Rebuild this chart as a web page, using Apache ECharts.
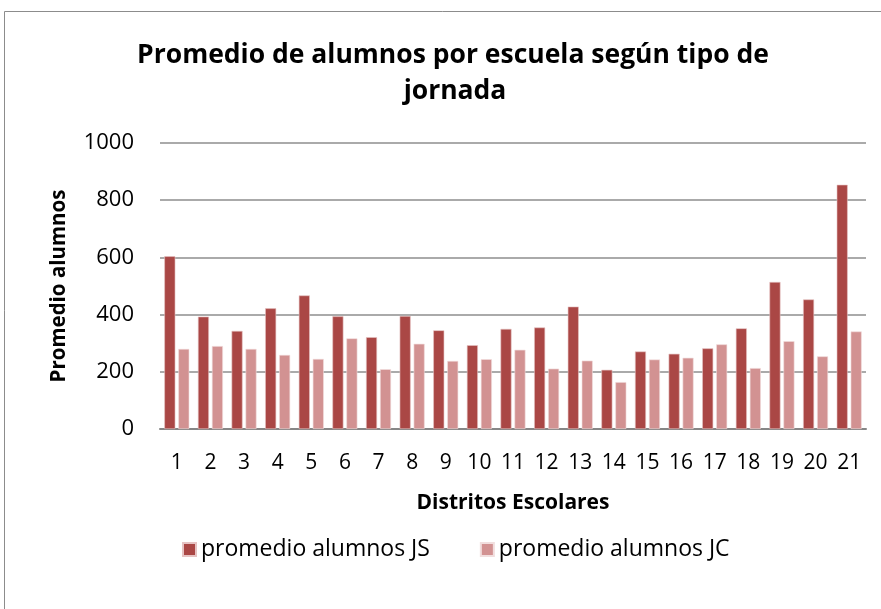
<!DOCTYPE html>
<html>
<head>
<meta charset="utf-8">
<script src="https://cdn.jsdelivr.net/npm/echarts@6/dist/echarts.min.js"></script>
<style>
html,body{margin:0;padding:0;background:#fff;}
#chart{width:881px;height:609px;}
</style>
</head>
<body>
<div id="chart"></div>
<script>
const categories = ['1','2','3','4','5','6','7','8','9','10','11','12','13','14','15','16','17','18','19','20','21'];
const seriesJS = [604, 393, 343, 422, 467, 394, 321, 395, 345, 293, 350, 355, 428, 207, 271, 263, 282, 352, 514, 453, 854];
const seriesJC = [280, 290, 280, 259, 245, 317, 209, 298, 238, 244, 277, 211, 239, 164, 243, 249, 296, 213, 307, 254, 341];
const yTicks = [0, 200, 400, 600, 800, 1000];
const titleLines = ['Promedio de alumnos por escuela según tipo de', 'jornada'];

const FONT = '"Open Sans", "Liberation Sans", sans-serif';
const chart = echarts.init(document.getElementById('chart'), null, {renderer: 'canvas'});
chart.setOption({
  animation: false,
  backgroundColor: '#ffffff',
  textStyle: {fontFamily: FONT, color: '#000'},
  graphic: [
    {type: 'line', shape: {x1: 4.5, y1: 11.5, x2: 881, y2: 11.5}, style: {stroke: '#8c8c8c', lineWidth: 1}, silent: true},
    {type: 'line', shape: {x1: 4.5, y1: 11.5, x2: 4.5, y2: 609}, style: {stroke: '#8c8c8c', lineWidth: 1}, silent: true},
    {type: 'text', x: 453, y: 55, silent: true,
     style: {text: titleLines[0], font: 'bold 26.5px ' + FONT, fill: '#000', align: 'center', verticalAlign: 'middle'}},
    {type: 'text', x: 455, y: 91, silent: true,
     style: {text: titleLines[1], font: 'bold 26.5px ' + FONT, fill: '#000', align: 'center', verticalAlign: 'middle'}}
  ],
  legend: {
    left: 177,
    top: 533,
    itemWidth: 13,
    itemHeight: 13,
    itemGap: 50,
    icon: 'rect',
    textStyle: {fontFamily: FONT, fontSize: 23, color: '#000'},
    data: ['promedio alumnos JS', 'promedio alumnos JC']
  },
  grid: {left: 160, right: 15, top: 143, bottom: 180, containLabel: false},
  xAxis: {
    type: 'category',
    data: categories,
    name: 'Distritos Escolares',
    nameLocation: 'middle',
    nameGap: 64,
    nameTextStyle: {fontFamily: FONT, fontSize: 21, fontWeight: 'bold', color: '#000'},
    axisLine: {show: true, lineStyle: {color: '#868686', width: 2}},
    axisTick: {show: false},
    axisLabel: {fontFamily: FONT, fontSize: 21, color: '#000', margin: 24, interval: 0}
  },
  yAxis: {
    type: 'value',
    min: yTicks[0],
    max: yTicks[yTicks.length - 1],
    interval: 200,
    name: 'Promedio alumnos',
    nameLocation: 'middle',
    nameGap: 90,
    nameTextStyle: {fontFamily: FONT, fontSize: 20.5, fontWeight: 'bold', color: '#000'},
    axisLine: {show: false},
    axisTick: {show: false},
    splitLine: {show: true, lineStyle: {color: '#8e8e8e', width: 1.5}},
    axisLabel: {fontFamily: FONT, fontSize: 22, color: '#000', margin: 26, formatter: function (v) { return String(v); }}
  },
  series: [
    {
      name: 'promedio alumnos JS',
      type: 'bar',
      data: seriesJS,
      barWidth: 11,
      barGap: '27%',
      itemStyle: {color: '#aa4745', borderColor: '#e6c3c3', borderWidth: 0.6}
    },
    {
      name: 'promedio alumnos JC',
      type: 'bar',
      data: seriesJC,
      barWidth: 11,
      barGap: '27%',
      itemStyle: {color: '#d29292', borderColor: '#f1dede', borderWidth: 0.6}
    }
  ]
});
</script>
</body>
</html>
